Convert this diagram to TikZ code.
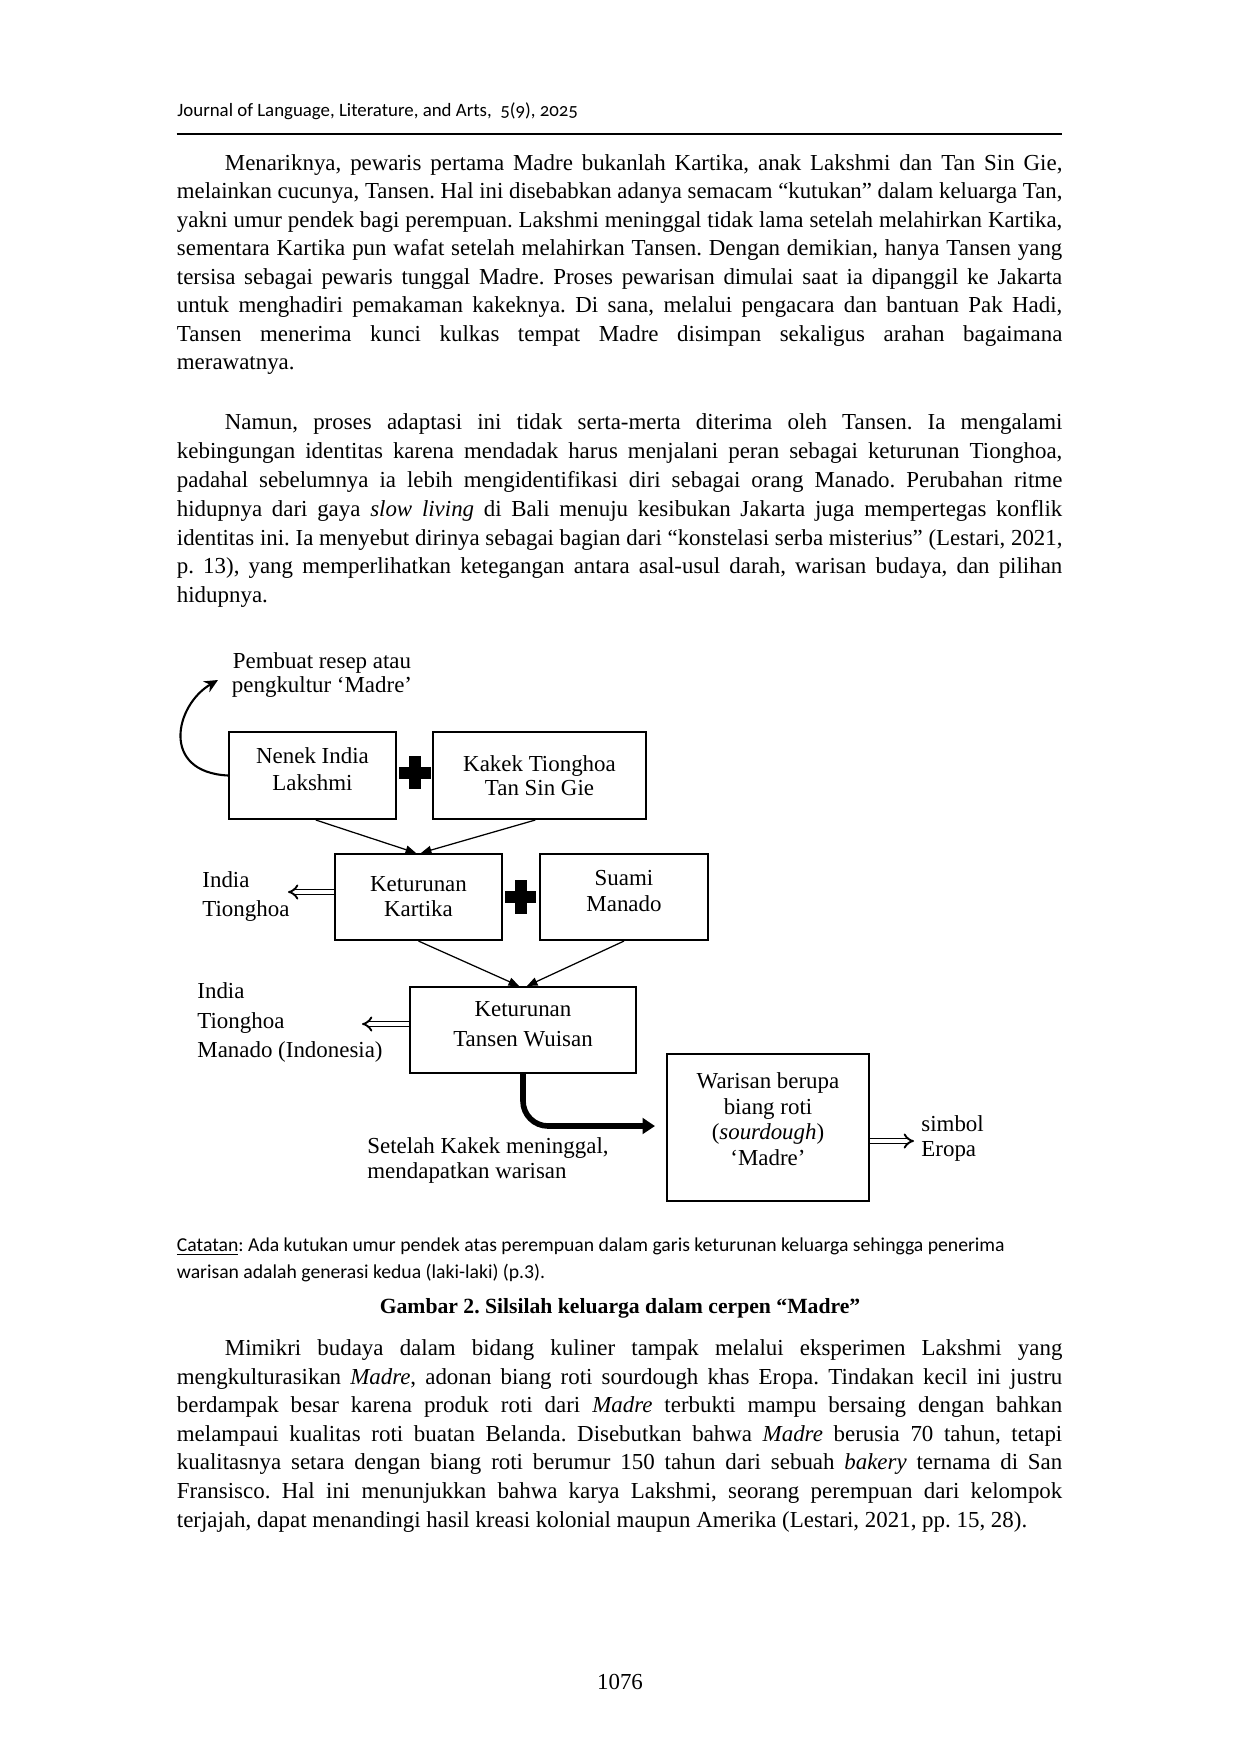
\documentclass[tikz,border=0pt]{standalone}
\usepackage{fontspec}
\usepackage{graphicx}
\setmainfont{Liberation Serif}
\newfontfamily\hdrfont[Numbers=OldStyle]{Carlito}
\newfontfamily\capfont{Carlito}
\usetikzlibrary{arrows.meta,calc}
\frenchspacing
\newsavebox\lnbox
\newcommand\jline[2]{\sbox\lnbox{#2}\ifdim\wd\lnbox>#1\relax\resizebox{#1}{\height}{\usebox\lnbox}\else\makebox[#1][s]{#2}\fi}
\newcommand\bodyfont{\fontsize{11}{13.5}\selectfont}
\begin{document}
\begin{tikzpicture}[x=0.48pt,y=-0.48pt,
  txt/.style={anchor=base west,inner sep=0pt,font=\bodyfont},
  box/.style={draw,line width=1pt,inner sep=0pt},
  btxt/.style={inner sep=0pt,align=center},
  conn/.style={line width=0.6pt,-{Triangle[length=5pt,width=4pt]}},
  dbl/.style={double,double distance=1.5pt,line width=0.9pt,-{Implies}},
  thickarr/.style={line width=2.7pt,rounded corners=12pt,-{Triangle[length=6pt,width=7.5pt]}},
  curvarr/.style={line width=1pt,-{Stealth[length=6.5pt,width=6pt]}}]
\fill[white] (0,0) rectangle (1240,1754);
\useasboundingbox (0,0) rectangle (1240,1754);
% header
\node[txt,font=\hdrfont\fontsize{9.05}{11}\selectfont] (hdr) at (177,116) {Journal of Language, Literature, and Arts,\ \ 5(9), 2025};
\draw[line width=1pt] (176.5,134) -- (1062,134);
% paragraph 1
\node[txt] (p1a) at (224.5,170) {\jline{402pt}{Menariknya, pewaris pertama Madre bukanlah Kartika, anak Lakshmi dan Tan Sin Gie,}};
\node[txt] (p1b) at (176.5,198.5) {\jline{425pt}{melainkan cucunya, Tansen. Hal ini disebabkan adanya semacam “kutukan” dalam keluarga Tan,}};
\node[txt] (p1c) at (176.5,227) {\jline{425pt}{yakni umur pendek bagi perempuan. Lakshmi meninggal tidak lama setelah melahirkan Kartika,}};
\node[txt] (p1d) at (176.5,255.5) {\jline{425pt}{sementara Kartika pun wafat setelah melahirkan Tansen. Dengan demikian, hanya Tansen yang}};
\node[txt] (p1e) at (176.5,284) {\jline{425pt}{tersisa sebagai pewaris tunggal Madre. Proses pewarisan dimulai saat ia dipanggil ke Jakarta}};
\node[txt] (p1f) at (176.5,312.5) {\jline{425pt}{untuk menghadiri pemakaman kakeknya. Di sana, melalui pengacara dan bantuan Pak Hadi,}};
\node[txt] (p1g) at (176.5,341) {\jline{425pt}{Tansen menerima kunci kulkas tempat Madre disimpan sekaligus arahan bagaimana}};
\node[txt] (p1h) at (176.5,369.5) {merawatnya.};
% paragraph 2
\node[txt] (p2a) at (224.5,429) {\jline{402pt}{Namun, proses adaptasi ini tidak serta-merta diterima oleh Tansen. Ia mengalami}};
\node[txt] (p2b) at (176.5,458) {\jline{425pt}{kebingungan identitas karena mendadak harus menjalani peran sebagai keturunan Tionghoa,}};
\node[txt] (p2c) at (176.5,487) {\jline{425pt}{padahal sebelumnya ia lebih mengidentifikasi diri sebagai orang Manado. Perubahan ritme}};
\node[txt] (p2d) at (176.5,516) {\jline{425pt}{hidupnya dari gaya \textit{slow living} di Bali menuju kesibukan Jakarta juga mempertegas konflik}};
\node[txt] (p2e) at (176.5,545) {\jline{425pt}{identitas ini. Ia menyebut dirinya sebagai bagian dari “konstelasi serba misterius” (Lestari, 2021,}};
\node[txt] (p2f) at (176.5,573) {\jline{425pt}{p. 13), yang memperlihatkan ketegangan antara asal-usul darah, warisan budaya, dan pilihan}};
\node[txt] (p2g) at (176.5,602) {hidupnya.};
% diagram labels
\node[txt,anchor=base] (pb1) at (322,668) {Pembuat resep atau};
\node[txt,anchor=base] (pb2) at (322,692) {pengkultur ‘Madre’};
% boxes
\node[box,minimum width=167*0.48pt,minimum height=87*0.48pt] (lak) at (312.5,775.5) {};
\node[box,minimum width=213*0.48pt,minimum height=87*0.48pt] (kak) at (539.5,775.5) {};
\node[box,minimum width=167*0.48pt,minimum height=86*0.48pt] (kar) at (418.5,897) {};
\node[box,minimum width=168*0.48pt,minimum height=86*0.48pt] (sua) at (624,897) {};
\node[box,minimum width=226*0.48pt,minimum height=86*0.48pt] (tan) at (523,1030) {};
\node[box,minimum width=202*0.48pt,minimum height=147*0.48pt] (war) at (768,1127.5) {};
% box texts
\node[btxt,font=\fontsize{11}{13}\selectfont] (lakt) at ([yshift=3.2pt]lak.center) {Nenek India\\Lakshmi};
\node[btxt,font=\fontsize{11}{11.2}\selectfont] (kakt) at (kak.center) {Kakek Tionghoa\\Tan Sin Gie};
\node[btxt,font=\fontsize{11}{12}\selectfont] (kart) at (kar.center) {Keturunan\\Kartika};
\node[btxt,font=\fontsize{11}{12.5}\selectfont] (suat) at ([yshift=3pt]sua.center) {Suami\\Manado};
\node[btxt,font=\fontsize{11}{14.4}\selectfont] (tant) at ([yshift=2.8pt]tan.center) {Keturunan\\Tansen Wuisan};
\node[btxt,font=\fontsize{11}{12.2}\selectfont] (wart) at ([yshift=4pt]war.center) {Warisan berupa\\biang roti\\(\textit{sourdough})\\‘Madre’};
% plus signs
\fill (399,766.5) rectangle (431,778.5);
\fill (409,756) rectangle (421,789);
\fill (505,891) rectangle (536,903);
\fill (514.5,880) rectangle (526.5,914);
% curved arrow
\coordinate (ca) at (218,680);
\draw[curvarr] (lak.west) .. controls (160,772) and (175,705) .. (ca);
% connectors
\draw[conn] ($(lak.south west)!0.52!(lak.south east)$) -- ($(kar.north)+(-2.5,0)$);
\draw[conn] ($(kak.south west)!0.48!(kak.south east)$) -- ($(kar.north)+(2.5,0)$);
\draw[conn] (kar.south) -- ($(tan.north)+(-4,0)$);
\draw[conn] (sua.south) -- ($(tan.north)+(4,0)$);
% side labels
\coordinate (d1) at (288,892);
\coordinate (d2) at (362,1024);
\coordinate (d3) at (914,1141);
\draw[dbl] (kar.west |- d1) -- (d1);
\draw[dbl] (tan.west |- d2) -- (d2);
\draw[dbl] (war.east |- d3) -- (d3);
\node[txt] (l1a) at (202,887) {India};
\node[txt] (l1b) at (202,916) {Tionghoa};
\node[txt] (l2a) at (197,998) {India};
\node[txt] (l2b) at (197,1028) {Tionghoa};
\node[txt] (l2c) at (197,1057) {Manado (Indonesia)};
\node[txt] (sy1) at (921,1131) {simbol};
\node[txt] (sy2) at (921,1156) {Eropa};
% thick arrow
\coordinate (t1) at (655,1126);
\draw[thickarr] (tan.south) |- (t1);
\node[txt] (st1) at (367,1153) {Setelah Kakek meninggal,};
\node[txt] (st2) at (367,1178) {mendapatkan warisan};
% caption
\node[txt,font=\capfont\fontsize{9.45}{11}\selectfont] (c1) at (176.5,1251) {\underline{Catatan}: Ada kutukan umur pendek atas perempuan dalam garis keturunan keluarga sehingga penerima};
\node[txt,font=\capfont\fontsize{9.45}{11}\selectfont] (c2) at (176.5,1278) {warisan adalah generasi kedua (laki-laki) (p.3).};
\node[txt,anchor=base,font=\bfseries\fontsize{10.4}{12}\selectfont] (gb) at (620,1313) {Gambar 2. Silsilah keluarga dalam cerpen “Madre”};
% paragraph 3
\node[txt] (p3a) at (224.5,1355) {\jline{402pt}{Mimikri budaya dalam bidang kuliner tampak melalui eksperimen Lakshmi yang}};
\node[txt] (p3b) at (176.5,1384) {\jline{425pt}{mengkulturasikan \textit{Madre}, adonan biang roti sourdough khas Eropa. Tindakan kecil ini justru}};
\node[txt] (p3c) at (176.5,1412) {\jline{425pt}{berdampak besar karena produk roti dari \textit{Madre} terbukti mampu bersaing dengan bahkan}};
\node[txt] (p3d) at (176.5,1441) {\jline{425pt}{melampaui kualitas roti buatan Belanda. Disebutkan bahwa \textit{Madre} berusia 70 tahun, tetapi}};
\node[txt] (p3e) at (176.5,1469) {\jline{425pt}{kualitasnya setara dengan biang roti berumur 150 tahun dari sebuah \textit{bakery} ternama di San}};
\node[txt] (p3f) at (176.5,1498) {\jline{425pt}{Fransisco. Hal ini menunjukkan bahwa karya Lakshmi, seorang perempuan dari kelompok}};
\node[txt] (p3g) at (176.5,1527) {terjajah, dapat menandingi hasil kreasi kolonial maupun Amerika (Lestari, 2021, pp. 15, 28).};
% page number
\node[txt,anchor=base] (pg) at (620,1689) {1076};
\end{tikzpicture}
\end{document}
